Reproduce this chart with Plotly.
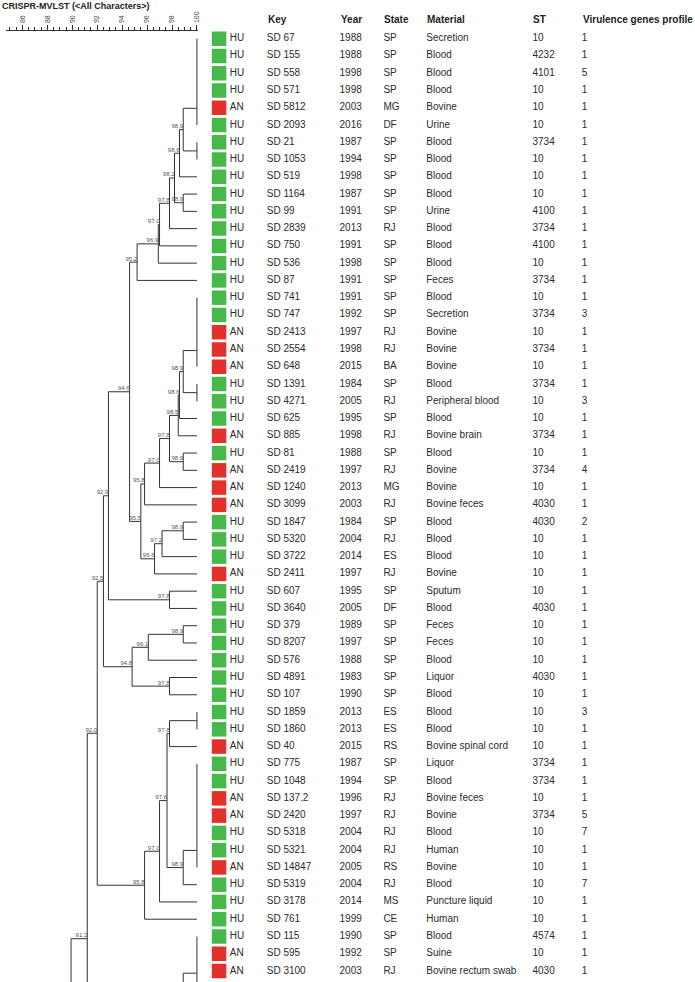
import plotly.graph_objects as go

# ---------------- data ----------------
TITLE = "CRISPR-MVLST (&lt;All Characters&gt;)"
HEADERS = ["Key", "Year", "State", "Material", "ST", "Virulence genes profile"]
SCALE_TICKS = [86, 88, 90, 92, 94, 96, 98, 100]

HOST = ["HU", "HU", "HU", "HU", "AN", "HU", "HU", "HU", "HU", "HU",
        "HU", "HU", "HU", "HU", "HU", "HU", "HU", "AN", "AN", "AN",
        "HU", "HU", "HU", "AN", "HU", "AN", "AN", "AN", "HU", "HU",
        "HU", "AN", "HU", "HU", "HU", "HU", "HU", "HU", "HU", "HU",
        "HU", "AN", "HU", "HU", "AN", "AN", "HU", "HU", "AN", "HU",
        "HU", "HU", "HU", "AN", "AN"]
KEY = ["SD 67", "SD 155", "SD 558", "SD 571", "SD 5812", "SD 2093", "SD 21", "SD 1053",
       "SD 519", "SD 1164", "SD 99", "SD 2839", "SD 750", "SD 536", "SD 87", "SD 741",
       "SD 747", "SD 2413", "SD 2554", "SD 648", "SD 1391", "SD 4271", "SD 625", "SD 885",
       "SD 81", "SD 2419", "SD 1240", "SD 3099", "SD 1847", "SD 5320", "SD 3722", "SD 2411",
       "SD 607", "SD 3640", "SD 379", "SD 8207", "SD 576", "SD 4891", "SD 107", "SD 1859",
       "SD 1860", "SD 40", "SD 775", "SD 1048", "SD 137.2", "SD 2420", "SD 5318", "SD 5321",
       "SD 14847", "SD 5319", "SD 3178", "SD 761", "SD 115", "SD 595", "SD 3100"]
YEAR = [1988, 1988, 1998, 1998, 2003, 2016, 1987, 1994, 1998, 1987,
        1991, 2013, 1991, 1998, 1991, 1991, 1992, 1997, 1998, 2015,
        1984, 2005, 1995, 1998, 1988, 1997, 2013, 2003, 1984, 2004,
        2014, 1997, 1995, 2005, 1989, 1997, 1988, 1983, 1990, 2013,
        2013, 2015, 1987, 1994, 1996, 1997, 2004, 2004, 2005, 2004,
        2014, 1999, 1990, 1992, 2003]
STATE = ["SP", "SP", "SP", "SP", "MG", "DF", "SP", "SP", "SP", "SP",
         "SP", "RJ", "SP", "SP", "SP", "SP", "SP", "RJ", "RJ", "BA",
         "SP", "RJ", "SP", "RJ", "SP", "RJ", "MG", "RJ", "SP", "RJ",
         "ES", "RJ", "SP", "DF", "SP", "SP", "SP", "SP", "SP", "ES",
         "ES", "RS", "SP", "SP", "RJ", "RJ", "RJ", "RJ", "RS", "RJ",
         "MS", "CE", "SP", "SP", "RJ"]
MATERIAL = ["Secretion", "Blood", "Blood", "Blood", "Bovine", "Urine", "Blood", "Blood",
            "Blood", "Blood", "Urine", "Blood", "Blood", "Blood", "Feces", "Blood",
            "Secretion", "Bovine", "Bovine", "Bovine", "Blood", "Peripheral blood", "Blood",
            "Bovine brain", "Blood", "Bovine", "Bovine", "Bovine feces", "Blood", "Blood",
            "Blood", "Bovine", "Sputum", "Blood", "Feces", "Feces", "Blood", "Liquor",
            "Blood", "Blood", "Blood", "Bovine spinal cord", "Liquor", "Blood",
            "Bovine feces", "Bovine", "Blood", "Human", "Bovine", "Blood",
            "Puncture liquid", "Human", "Blood", "Suine", "Bovine rectum swab"]
ST = [10, 4232, 4101, 10, 10, 10, 3734, 10, 10, 10,
      4100, 3734, 4100, 10, 3734, 10, 3734, 10, 3734, 10,
      3734, 10, 10, 3734, 10, 3734, 10, 4030, 4030, 10,
      10, 10, 10, 4030, 10, 10, 10, 4030, 10, 10,
      10, 10, 3734, 3734, 10, 3734, 10, 10, 10, 10,
      10, 10, 4574, 10, 4030]
VIRULENCE = [1, 1, 5, 1, 1, 1, 1, 1, 1, 1,
             1, 1, 1, 1, 1, 1, 3, 1, 1, 1,
             1, 3, 1, 1, 1, 4, 1, 1, 2, 1,
             1, 1, 1, 1, 1, 1, 1, 1, 1, 3,
             1, 1, 1, 1, 1, 5, 7, 1, 1, 7,
             1, 1, 1, 1, 1]

HOST_COLORS = {"HU": "#47b84a", "AN": "#e2302a"}

# Rows of the tree that continue below the visible panel (truncated figure)
CONTINUED_ROWS = [56, 57, 74, 120]


def identical(rows):
    """Cluster of isolates at 100 % similarity (sequential joins)."""
    node = rows[0]
    for r in rows[1:]:
        node = (100.0, node, r)
    return node


# Dendrogram: (similarity, child, child); leaves are row numbers
n1 = (98.9, identical([1, 2, 3, 4, 5, 6]), identical([7, 8]))
n2 = (98.6, n1, 9)
n4 = (98.2, n2, (98.9, 10, 11))
n5 = (97.8, n4, 12)
n6 = (97.0, n5, 13)
n7 = (96.9, n6, 14)
n8 = (95.2, n7, 15)
m1 = (98.9, identical([16, 17, 18, 19, 20]), identical([21, 22]))
m2 = (98.6, m1, 23)
m3 = (98.5, m2, 24)
m5 = (97.8, m3, (98.9, 25, 26))
m6 = (97.0, m5, 27)
m7 = (95.8, m6, 28)
p3 = (96.6, (97.2, (98.9, 29, 30), 31), 32)
m8 = (95.5, m7, p3)
q1 = (94.6, n8, m8)
q2 = (92.9, q1, (97.8, 33, 34))
s4 = (94.8, (96.1, (98.9, 35, 36), 37), (97.8, 38, 39))
q3 = (92.5, q2, s4)
t1 = (97.8, identical([40, 41]), 42)
t2 = (98.9, identical([43, 44, 45, 46, 47, 48, 49]), 50)
t5 = (95.8, (97.0, (97.6, t1, t2), 51), 52)
q4 = (92.0, q3, t5)
u1 = (98.9, identical([53, 54, 55, CONTINUED_ROWS[0]]), CONTINUED_ROWS[1])
u2 = (94.0, u1, CONTINUED_ROWS[2])
q5 = (91.2, q4, u2)
TREE = (89.9, q5, CONTINUED_ROWS[3])

# ---------------- geometry (layout only) ----------------
W, H = 695, 982
ROW1_PX, ROW_PITCH = 38.7, 17.265
PX_PER_PCT, X100_PX = 12.5, 197.5
TREE_DOM_PX = (6, 199)
AXIS_Y_PX = 30.5
COL_X = {"sq": 219.7, "host": 230.5, "key": 267.5, "year": 340.5, "state": 384.5,
         "mat": 427.5, "st": 534.0, "vir": 583.5}
HEADER_COLS = ["key", "year", "state", "mat", "st", "vir"]
FONT = "Arial, Liberation Sans, sans-serif"


def px_to_sim(px):
    return 100 - (X100_PX - px) / PX_PER_PCT


def px_to_row(py):
    return 1 + (py - ROW1_PX) / ROW_PITCH


LAST_VISIBLE_ROW = px_to_row(H)

segx, segy = [], []
lab_x, lab_y, lab_t = [], [], []
identical_spans = []


def walk(node):
    if not isinstance(node, tuple):
        return 100.0, float(node)
    sim, a, b = node
    xa, ya = walk(a)
    xb, yb = walk(b)
    y = (ya + yb) / 2
    if sim >= 100:
        identical_spans.append((min(ya, yb), max(ya, yb)))
        return sim, y
    segx.extend([xa, sim, None, xb, sim, None, sim, sim, None])
    segy.extend([ya, ya, None, yb, yb, None, ya, yb, None])
    if y < LAST_VISIBLE_ROW:
        lab_x.append(sim)
        lab_y.append(y)
        lab_t.append(f"{sim:.1f}")
    return sim, y


walk(TREE)

# merge the overlapping 100 % verticals so each is drawn once
merged = []
for lo, hi in sorted(identical_spans):
    if merged and lo <= merged[-1][1]:
        merged[-1][1] = max(merged[-1][1], hi)
    else:
        merged.append([lo, hi])
for lo, hi in merged:
    segx.extend([100.0, 100.0, None])
    segy.extend([lo, hi, None])

fig = go.Figure()
fig.add_trace(go.Scatter(x=segx, y=segy, mode="lines",
                         line=dict(color="#333333", width=1), hoverinfo="skip",
                         showlegend=False))
fig.add_trace(go.Scatter(x=lab_x, y=lab_y, text=lab_t, mode="text",
                         textposition="top left",
                         textfont=dict(size=6, color="#555555", family=FONT),
                         hoverinfo="skip", showlegend=False))

rows = list(range(1, len(KEY) + 1))
tf = dict(size=10, color="#2b2b2b", family=FONT)
fig.add_trace(go.Scatter(x=[COL_X["sq"]] * len(rows), y=rows, mode="markers",
                         marker=dict(symbol="square", size=14.5,
                                     color=[HOST_COLORS[h] for h in HOST],
                                     line=dict(width=0)),
                         xaxis="x2", hoverinfo="skip", showlegend=False))
for col, vals in [("host", HOST), ("key", KEY), ("year", YEAR), ("state", STATE),
                  ("mat", MATERIAL), ("st", ST), ("vir", VIRULENCE)]:
    fig.add_trace(go.Scatter(x=[COL_X[col]] * len(rows), y=rows,
                             text=[str(v) for v in vals], mode="text",
                             textposition="middle right", textfont=tf,
                             xaxis="x2", cliponaxis=False, hoverinfo="skip",
                             showlegend=False))

for c, h in zip(HEADER_COLS, HEADERS):
    fig.add_annotation(text=f"<b>{h}</b>", xref="x2", yref="paper", x=COL_X[c] - 1,
                       y=1 - 19.5 / H, xanchor="left", yanchor="middle", showarrow=False,
                       font=dict(size=10, color="#222222", family=FONT))

fig.add_annotation(text=f"<b>{TITLE}</b>", xref="paper", yref="paper", x=0, y=1 - 5.5 / H,
                   xanchor="left", yanchor="middle", showarrow=False,
                   font=dict(size=9, color="#222222", family=FONT))

fig.update_layout(
    width=W, height=H, margin=dict(l=0, r=0, t=0, b=0),
    paper_bgcolor="white", plot_bgcolor="rgba(0,0,0,0)",
    xaxis=dict(domain=[TREE_DOM_PX[0] / W, TREE_DOM_PX[1] / W],
               range=[px_to_sim(TREE_DOM_PX[0]), px_to_sim(TREE_DOM_PX[1])],
               side="top", anchor="y",
               showline=True, linecolor="#333333", linewidth=1,
               ticks="outside", ticklen=5, tickcolor="#333333", tickwidth=1,
               tickvals=SCALE_TICKS, tickangle=-90,
               tickfont=dict(size=7, color="#444444", family=FONT),
               minor=dict(dtick=0.5, tick0=0, ticks="outside", ticklen=2.5,
                          tickcolor="#333333", showgrid=False),
               showgrid=False, zeroline=False, fixedrange=True),
    xaxis2=dict(domain=[0, 1], range=[0, W], anchor="y", visible=False,
                showgrid=False, zeroline=False, fixedrange=True),
    yaxis=dict(domain=[0, 1 - AXIS_Y_PX / H], range=[px_to_row(H), px_to_row(AXIS_Y_PX)],
               anchor="x", visible=False, showgrid=False, zeroline=False, fixedrange=True),
)

fig.write_html("out.html", config={"displayModeBar": False},
               post_script="document.body.style.margin='0';")
